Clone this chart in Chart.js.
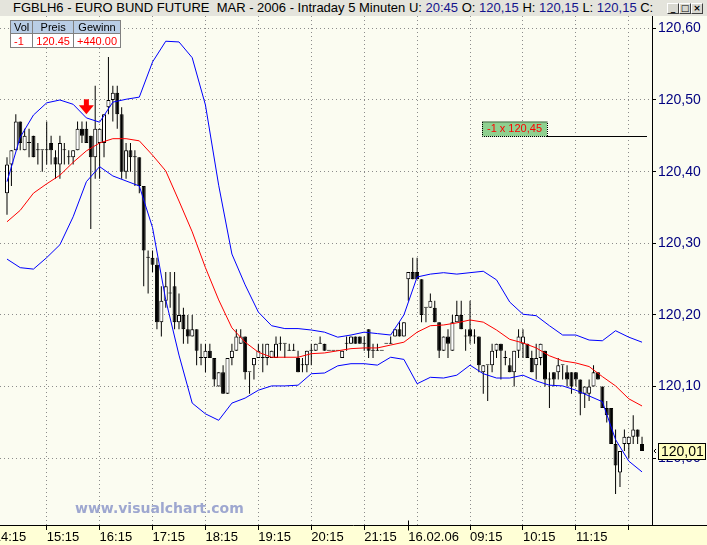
<!DOCTYPE html>
<html>
<head>
<meta charset="utf-8">
<title>FGBLH6 - EURO BUND FUTURE</title>
<script src="https://cdn.jsdelivr.net/npm/chart.js@4.4.1/dist/chart.umd.min.js"></script>
<style>
  html, body { margin: 0; padding: 0; background: #fbfcf1; }
  #wrap { position: relative; width: 707px; height: 545px; overflow: hidden; }
  #myChart { position: absolute; left: 0; top: 0; }
  #titlebar {
    position: absolute; left: 0; top: 0; width: 707px; height: 16px;
    background: #e4e4dc; white-space: nowrap;
    font: 13px "Liberation Sans", Arial, sans-serif; line-height: 15px; color: #000;
  }
  #titlebar .txt { position: absolute; left: 13px; top: 0; }
  #titlebar .v { color: #14148c; }
  .btn {
    position: absolute; top: 3px; width: 10px; height: 9px;
    background: #d8d8d0; border: 1px solid #fff; border-right-color: #404040; border-bottom-color: #404040;
    font: bold 9px "DejaVu Sans", sans-serif; line-height: 9px; text-align: center; color: #000;
  }
  #pos {
    position: absolute; left: 10px; top: 20px; border-collapse: collapse;
    font: 11px "Liberation Sans", Arial, sans-serif;
  }
  #pos td { border: 1px solid #808080; padding: 0 3px; height: 12px; line-height: 12px; }
  #pos tr.head td { background: #b9cde5; color: #000; text-align: center; }
  #pos tr.row td { background: #ffffff; color: #ff0000; height: 13px; }
  #mark {
    position: absolute; left: 75px; top: 500px;
    font: bold 14px "DejaVu Sans", Verdana, sans-serif; color: #9ea7d0;
  }
</style>
</head>
<body>
<div id="wrap">
  <canvas id="myChart" width="707" height="545"></canvas>
  <div id="titlebar">
    <span class="txt">FGBLH6 - EURO BUND FUTURE&nbsp; MAR - 2006 - Intraday 5 Minuten U: <span class="v">20:45</span> O: <span class="v">120,15</span> H: <span class="v">120,15</span> L: <span class="v">120,15</span> C:</span>
    <div class="btn" style="left:667px">_</div>
    <div class="btn" style="left:679px">&#9633;</div>
    <div class="btn" style="left:691px">&#215;</div>
  </div>
  <table id="pos">
    <tr class="head"><td>Vol</td><td>Preis</td><td>Gewinn</td></tr>
    <tr class="row"><td>-1</td><td>120.45</td><td>+440.00</td></tr>
  </table>
  <div id="mark">www.visualchart.com</div>
</div>
<script>
// 5-minute bars, 15.02.06 14:30 .. 16.02.06 12:30 (bar index = position on the x axis)
var opens = [
  120.37,120.41,120.43,120.47,120.43,120.44,120.45,120.43,120.43,120.43,
  120.44,120.42,120.41,120.43,120.42,120.42,120.43,120.46,120.46,120.45,
  120.42,120.44,120.44,120.49,120.50,120.51,120.48,120.40,120.43,120.42,
  120.42,120.38,120.28,120.28,120.27,120.19,120.22,120.23,120.24,120.19,
  120.20,120.18,120.17,120.18,120.14,120.14,120.15,120.14,120.10,120.12,
  120.09,120.14,120.15,120.16,120.17,120.12,120.13,120.14,120.14,120.14,
  120.14,120.14,120.16,120.16,120.15,120.15,120.14,120.13,120.13,120.15,
  120.15,120.16,120.16,120.15,120.15,120.15,120.14,120.16,120.16,120.17,
  120.17,120.16,120.18,120.15,120.15,120.15,120.16,120.16,120.17,120.18,
  120.17,120.25,120.26,120.26,120.25,120.21,120.21,120.21,120.19,120.15,
  120.17,120.15,120.19,120.20,120.17,120.18,120.17,120.17,120.12,120.13,
  120.13,120.15,120.16,120.14,120.13,120.12,120.15,120.16,120.16,120.14,
  120.13,120.14,120.15,120.11,120.12,120.12,120.13,120.12,120.12,120.12,
  120.11,120.09,120.09,120.10,120.12,120.10,120.07,120.07,120.02,119.98,
  120.02,120.02,120.03,120.04,120.02
];
var highs = [
  120.42,120.43,120.48,120.47,120.46,120.46,120.45,120.44,120.43,120.47,
  120.45,120.43,120.45,120.44,120.43,120.43,120.47,120.47,120.47,120.45,
  120.52,120.46,120.48,120.56,120.52,120.52,120.49,120.44,120.44,120.43,
  120.42,120.38,120.29,120.29,120.28,120.24,120.26,120.26,120.26,120.23,
  120.21,120.20,120.20,120.18,120.16,120.16,120.16,120.14,120.12,120.13,
  120.14,120.16,120.18,120.18,120.17,120.12,120.14,120.16,120.16,120.16,
  120.15,120.17,120.17,120.16,120.16,120.16,120.15,120.14,120.15,120.16,
  120.16,120.17,120.16,120.15,120.15,120.15,120.15,120.17,120.17,120.17,
  120.17,120.17,120.18,120.16,120.16,120.15,120.16,120.17,120.18,120.19,
  120.19,120.26,120.28,120.28,120.25,120.21,120.23,120.22,120.19,120.17,
  120.18,120.20,120.22,120.22,120.18,120.22,120.18,120.17,120.13,120.13,
  120.16,120.16,120.16,120.15,120.14,120.15,120.18,120.18,120.16,120.15,
  120.16,120.16,120.15,120.12,120.12,120.14,120.13,120.13,120.12,120.12,
  120.11,120.10,120.11,120.13,120.12,120.10,120.08,120.07,120.04,120.01,
  120.04,120.03,120.06,120.04,120.03
];
var lows = [
  120.34,120.38,120.43,120.43,120.43,120.42,120.42,120.41,120.40,120.41,
  120.41,120.39,120.39,120.41,120.41,120.41,120.43,120.44,120.44,120.32,
  120.39,120.39,120.42,120.48,120.47,120.46,120.39,120.39,120.40,120.38,
  120.37,120.24,120.23,120.26,120.18,120.17,120.21,120.21,120.18,120.18,
  120.16,120.16,120.17,120.13,120.13,120.12,120.14,120.10,120.10,120.09,
  120.09,120.13,120.15,120.16,120.11,120.09,120.11,120.14,120.12,120.13,
  120.14,120.14,120.15,120.14,120.15,120.15,120.12,120.12,120.12,120.13,
  120.15,120.16,120.15,120.15,120.15,120.15,120.14,120.15,120.16,120.16,
  120.16,120.15,120.14,120.14,120.15,120.15,120.16,120.16,120.17,120.17,
  120.17,120.22,120.25,120.25,120.19,120.19,120.21,120.19,120.14,120.15,
  120.14,120.15,120.19,120.18,120.15,120.16,120.16,120.12,120.09,120.08,
  120.12,120.14,120.11,120.13,120.12,120.10,120.14,120.14,120.14,120.12,
  120.11,120.13,120.10,120.07,120.10,120.11,120.11,120.10,120.09,120.10,
  120.06,120.07,120.08,120.10,120.11,120.07,120.05,120.02,119.95,119.96,
  120.01,120.00,120.02,120.02,120.01
];
var closes = [
  120.41,120.43,120.47,120.44,120.45,120.44,120.42,120.43,120.43,120.43,
  120.43,120.41,120.44,120.43,120.42,120.43,120.46,120.45,120.44,120.42,
  120.46,120.46,120.48,120.50,120.51,120.48,120.40,120.43,120.42,120.42,
  120.38,120.29,120.28,120.27,120.19,120.22,120.24,120.23,120.19,120.20,
  120.18,120.17,120.18,120.15,120.14,120.15,120.14,120.11,120.12,120.09,
  120.14,120.15,120.17,120.17,120.12,120.12,120.14,120.15,120.14,120.16,
  120.15,120.16,120.16,120.16,120.15,120.15,120.12,120.13,120.15,120.15,
  120.16,120.16,120.15,120.15,120.15,120.15,120.15,120.16,120.17,120.16,
  120.16,120.16,120.15,120.15,120.15,120.15,120.16,120.16,120.18,120.17,
  120.19,120.26,120.25,120.25,120.20,120.21,120.22,120.19,120.15,120.17,
  120.16,120.19,120.20,120.18,120.17,120.17,120.17,120.13,120.13,120.13,
  120.15,120.16,120.15,120.14,120.12,120.15,120.17,120.17,120.14,120.12,
  120.14,120.16,120.11,120.11,120.11,120.13,120.13,120.11,120.10,120.11,
  120.09,120.10,120.10,120.12,120.11,120.07,120.06,120.02,119.99,120.01,
  120.03,120.03,120.04,120.03,120.01
];

// Bollinger bands read every third bar
var bandBars = [0,3,6,9,12,15,18,21,24,27,30,33,36,39,42,45,48,51,54,57,60,63,66,69,72,
  75,78,81,84,87,90,93,96,99,102,105,108,111,114,117,120,123,126,129,132,135,138,141,144];
var upperBand = [120.386,120.448,120.479,120.496,120.500,120.494,120.475,120.469,120.497,120.501,
  120.504,120.553,120.582,120.581,120.559,120.493,120.381,120.285,120.242,120.204,
  120.185,120.181,120.181,120.179,120.176,120.169,120.172,120.176,120.174,120.172,
  120.200,120.253,120.257,120.259,120.257,120.259,120.261,120.249,120.218,120.201,
  120.199,120.185,120.172,120.172,120.165,120.164,120.178,120.169,120.162];
var midBand = [120.330,120.346,120.370,120.383,120.395,120.413,120.429,120.440,120.446,120.446,
  120.443,120.423,120.401,120.359,120.316,120.266,120.221,120.182,120.162,120.148,
  120.141,120.141,120.141,120.146,120.147,120.150,120.153,120.154,120.154,120.158,
  120.162,120.176,120.185,120.186,120.189,120.193,120.190,120.179,120.166,120.161,
  120.154,120.143,120.136,120.133,120.128,120.114,120.101,120.083,120.073];
var lowerBand = [120.278,120.266,120.264,120.280,120.298,120.337,120.386,120.407,120.394,120.387,
  120.380,120.322,120.221,120.144,120.077,120.062,120.053,120.077,120.084,120.095,
  120.101,120.101,120.102,120.118,120.119,120.129,120.132,120.132,120.130,120.141,
  120.138,120.104,120.113,120.112,120.116,120.130,120.118,120.112,120.112,120.116,
  120.108,120.102,120.101,120.095,120.087,120.079,120.026,119.996,119.981];

// axis labels
var tickBars = [-3, 9, 21, 33, 45, 57, 69, 81, 91, 93, 105, 117, 129, 141];
var tickLabels = ["14:15","15:15","16:15","17:15","18:15","19:15","20:15","21:15","16.02.06","","09:15","10:15","11:15",""];
var priceTicks = [120.0, 120.1, 120.2, 120.3, 120.4, 120.5, 120.6];

// trade marks
var sellBar = 18;
var sellTip = 120.48;
var orderPrice = 120.45;
var orderText = "-1 x 120,45";
var lastPrice = 120.01;

var fmt = function (v) { return v.toFixed(2).replace(".", ","); };
var band = function (arr) { return arr.map(function (v, k) { return { x: bandBars[k], y: v }; }); };

var chartStyle = {
  id: "chartStyle",
  beforeDraw: function (chart) {
    var c = chart.ctx, a = chart.chartArea;
    c.save();
    c.fillStyle = "#fbfcf1";
    c.fillRect(0, 0, chart.width, chart.height);
    c.fillStyle = "#ffffd6";
    c.fillRect(0, a.bottom, chart.width, chart.height - a.bottom);
    c.restore();
  },
  afterDraw: function (chart) {
    var c = chart.ctx, a = chart.chartArea;
    var xs = chart.scales.x, ys = chart.scales.y;
    var r = Math.round(a.right) + 0.5, b = Math.round(a.bottom) + 0.5;
    c.save();
    c.strokeStyle = "#000";
    c.lineWidth = 1;
    c.beginPath();
    c.moveTo(r, a.top); c.lineTo(r, b);
    c.moveTo(0, b); c.lineTo(chart.width, b);
    // day break tick
    var d = Math.round(xs.getPixelForValue(91)) + 0.5;
    c.moveTo(d, b - 5); c.lineTo(d, b + 5);
    c.stroke();

    // sell arrow
    var ax = xs.getPixelForValue(sellBar), ay = ys.getPixelForValue(sellTip);
    c.fillStyle = "#ff0000";
    c.fillRect(ax - 2.5, ay - 15, 5, 7);
    c.beginPath();
    c.moveTo(ax - 7.5, ay - 9); c.lineTo(ax + 7.5, ay - 9); c.lineTo(ax, ay);
    c.closePath(); c.fill();

    // open order line
    var oy = Math.round(ys.getPixelForValue(orderPrice)) + 0.5;
    var bx = a.right - 170, bw = 65, bh = 15;
    c.beginPath();
    c.moveTo(bx + bw, oy); c.lineTo(a.right - 5, oy);
    c.stroke();
    c.fillStyle = "#8fd08f";
    c.fillRect(bx, oy - bh, bw, bh);
    c.setLineDash([1, 1]);
    c.strokeRect(bx + 0.5, oy - bh + 0.5, bw, bh - 0.5);
    c.setLineDash([]);
    c.fillStyle = "#ff0000";
    c.font = '11px "Liberation Sans", Arial, sans-serif';
    c.textAlign = "center"; c.textBaseline = "middle";
    c.fillText(orderText, bx + bw / 2, oy - bh / 2);

    // last price tag on the axis
    var ly = Math.round(ys.getPixelForValue(lastPrice));
    var tx = a.right + 6;
    c.fillStyle = "#ffffc0";
    c.fillRect(tx, ly - 8, 48, 17);
    c.strokeRect(tx + 0.5, ly - 7.5, 47, 16);
    c.fillStyle = "#000";
    c.font = '14px "Liberation Sans", Arial, sans-serif';
    c.textAlign = "left";
    c.fillText(fmt(lastPrice), tx + 3, ly + 1);
    c.beginPath();
    c.moveTo(a.right + 4, ly - 2); c.lineTo(a.right + 2, ly); c.lineTo(a.right + 4, ly + 2);
    c.stroke();
    c.restore();
  }
};

var ctx = document.getElementById("myChart");
var myChart = new Chart(ctx, {
  type: "bar",
  data: {
    datasets: [
      {
        type: "line", label: "BB oben", data: band(upperBand),
        borderColor: "#0000ff", borderWidth: 1, pointRadius: 0, tension: 0, order: 0,
      },
      {
        type: "line", label: "Mittel", data: band(midBand),
        borderColor: "#ff0000", borderWidth: 1, pointRadius: 0, tension: 0, order: 0,
      },
      {
        type: "line", label: "BB unten", data: band(lowerBand),
        borderColor: "#0000ff", borderWidth: 1, pointRadius: 0, tension: 0, order: 0,
      },
      {
        label: "Body",
        data: closes.map(function (c, i) { return { x: i, y: [opens[i], c] }; }),
        grouped: false, barThickness: 4, minBarLength: 1, inflateAmount: 0,
        borderWidth: 1, borderSkipped: false, borderColor: "#000000",
        backgroundColor: function (c) {
          var raw = c.raw;
          return raw && raw.y[1] > raw.y[0] ? "#ffffff" : "#000000";
        },
        order: 1,
      },
      {
        label: "Docht",
        data: highs.map(function (h, i) { return { x: i, y: [lows[i], h] }; }),
        grouped: false, barThickness: 1, inflateAmount: 0,
        borderWidth: 0, backgroundColor: "#000000",
        order: 2,
      },
    ],
  },
  options: {
    responsive: false,
    animation: false,
    layout: { padding: { top: 16, left: 0, right: 0, bottom: 0 } },
    plugins: {
      legend: { display: false },
      tooltip: { enabled: false },
    },
    scales: {
      x: {
        type: "linear",
        min: -1.587,
        max: 146.26,
        offset: false,
        grid: {
          offset: false,
          color: function (c) { return c.tick && c.tick.value === 91 ? "rgba(0,0,0,0)" : "#8c8c8c"; },
          tickColor: function (c) { return c.tick && c.tick.value === 93 ? "rgba(0,0,0,0)" : "#000000"; },
          tickLength: 5,
        },
        border: { display: false, dash: [1, 3] },
        ticks: {
          autoSkip: false,
          maxRotation: 0,
          align: "start",
          padding: 0,
          color: "#000000",
          font: { family: '"Liberation Sans", Arial, sans-serif', size: 13 },
          callback: function (v, i) { return tickLabels[i]; },
        },
        afterBuildTicks: function (s) { s.ticks = tickBars.map(function (v) { return { value: v }; }); },
        afterFit: function (s) { s.height = 20; s.paddingLeft = 0; s.paddingRight = 0; },
      },
      y: {
        type: "linear",
        position: "right",
        min: 119.9069,
        max: 120.6172,
        grid: { color: "#8c8c8c", tickColor: "#000000", tickLength: 4 },
        border: { display: false, dash: [1, 3] },
        ticks: {
          padding: 2,
          color: "#000080",
          font: { family: '"Liberation Sans", Arial, sans-serif', size: 14 },
          callback: function (v) { return fmt(v); },
        },
        afterBuildTicks: function (s) { s.ticks = priceTicks.map(function (v) { return { value: v }; }); },
        afterFit: function (s) { s.width = 55; s.paddingTop = 0; s.paddingBottom = 0; },
      },
    },
  },
  plugins: [chartStyle],
});
</script>
</body>
</html>
